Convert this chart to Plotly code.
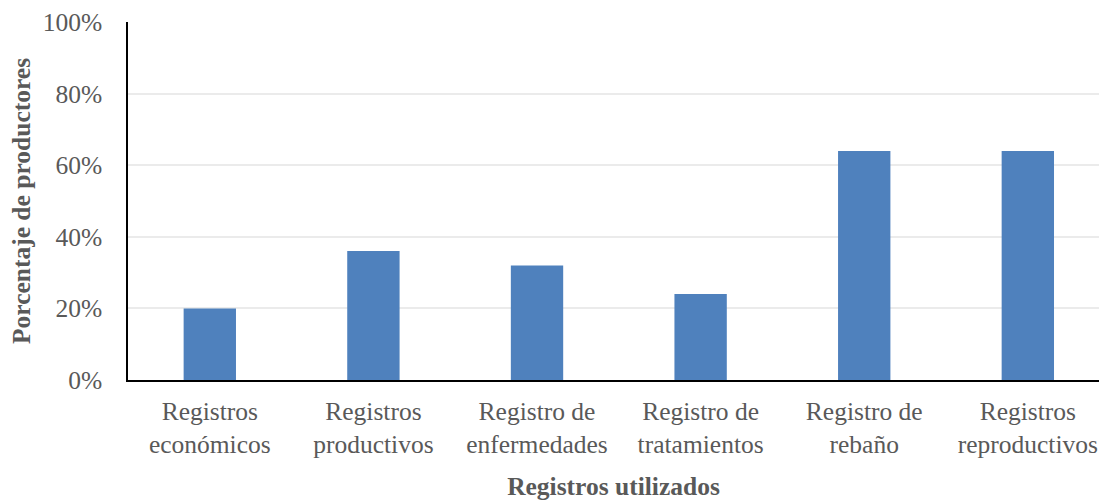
import plotly.graph_objects as go

# Registros utilizados por los productores (% de productores)
categorias = [
    "Registros<br>económicos",
    "Registros<br>productivos",
    "Registro de<br>enfermedades",
    "Registro de<br>tratamientos",
    "Registro de<br>rebaño",
    "Registros<br>reproductivos",
]
porcentajes = [20, 36, 32, 24, 64, 64]
ticks_y = [0, 20, 40, 60, 80, 100]
etiquetas_y = [f"{v}%" for v in ticks_y]

FUENTE = "Liberation Serif"
GRIS = "#595959"
TAM = 25.5

fig = go.Figure(
    go.Bar(
        x=list(range(len(categorias))),
        y=porcentajes,
        marker=dict(color="#4F81BD", line=dict(width=0)),
        width=0.32,
    )
)

fig.update_layout(
    width=1099,
    height=501,
    margin=dict(l=128, r=0, t=22, b=121),
    paper_bgcolor="white",
    plot_bgcolor="white",
    showlegend=False,
    font=dict(family=FUENTE, size=TAM, color=GRIS),
    xaxis=dict(
        range=[-0.5, 5.435],
        tickmode="array",
        tickvals=list(range(len(categorias))),
        ticktext=categorias,
        showgrid=False,
        showline=True,
        linecolor="black",
        linewidth=2,
        ticks="",
        ticklabelstandoff=7,
        tickfont=dict(family=FUENTE, size=TAM, color=GRIS),
        title=dict(
            text="<b>Registros utilizados</b>",
            font=dict(family=FUENTE, size=TAM, color=GRIS),
            standoff=23,
        ),
        fixedrange=True,
    ),
    yaxis=dict(
        range=[0, 100],
        tickmode="array",
        tickvals=ticks_y,
        ticktext=etiquetas_y,
        showgrid=True,
        gridcolor="#EBEBEB",
        gridwidth=1.5,
        showline=True,
        linecolor="black",
        linewidth=1.5,
        ticks="",
        zeroline=False,
        ticklabelstandoff=19,
        tickfont=dict(family=FUENTE, size=TAM, color=GRIS),
        title=dict(
            text="<b>Porcentaje de productores</b>",
            font=dict(family=FUENTE, size=TAM, color=GRIS),
            standoff=5,
        ),
        fixedrange=True,
    ),
)

fig.write_html("out.html", config={"displayModeBar": False})
